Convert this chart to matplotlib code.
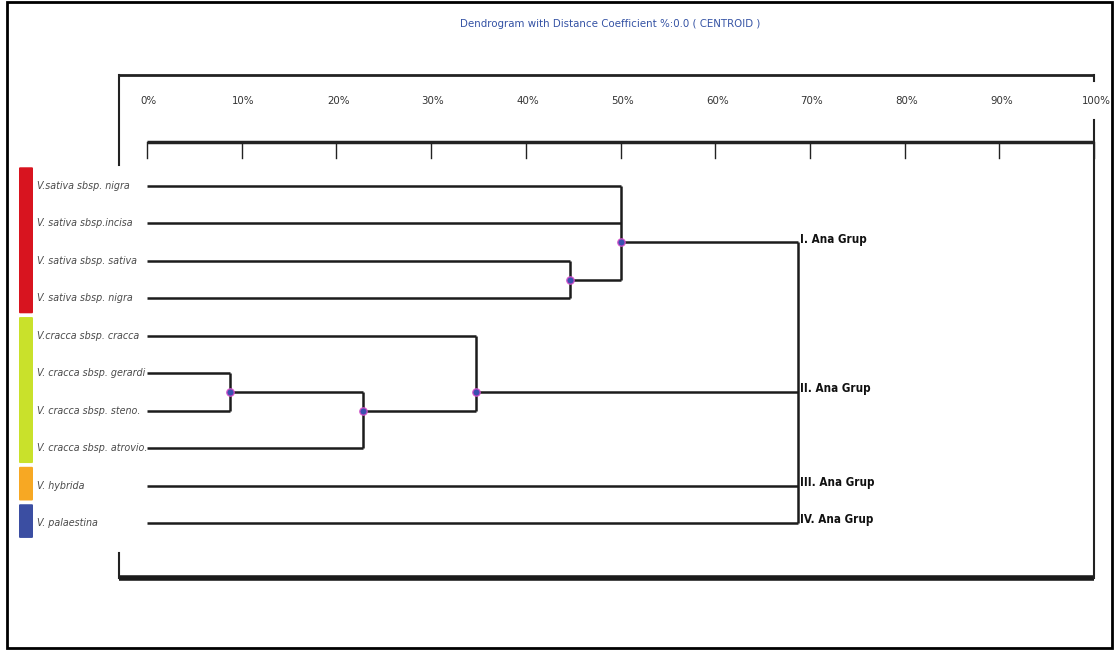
import matplotlib
matplotlib.use("Agg")
import matplotlib.pyplot as plt
from matplotlib import font_manager
from matplotlib.patches import FancyBboxPatch, Rectangle
import numpy as np

# leaves, top to bottom
leaf_names = ["V.sativa sbsp. nigra", "V. sativa sbsp.incisa", "V. sativa sbsp. sativa",
              "V. sativa sbsp. nigra", "V.cracca sbsp. cracca", "V. cracca sbsp. gerardi",
              "V. cracca sbsp. steno.", "V. cracca sbsp. atrovio.", "V. hybrida", "V. palaestina"]
leaf_group = [0, 0, 0, 0, 1, 1, 1, 1, 2, 3]
group_colors = ["#d8141f", "#c9e12b", "#f7a823", "#3b4ea2"]
group_labels = ["I. Ana Grup", "II. Ana Grup", "III. Ana Grup", "IV. Ana Grup"]

# merges: children (leaf index or n+k for k-th merge) and distance in %
merge_children = [[2, 3], [0, 1, 10], [5, 6], [12, 7], [4, 13], [11, 14, 8, 9]]
merge_height = [44.7, 50.0, 8.8, 22.8, 34.7, 68.7]

tick_values = [0, 10, 20, 30, 40, 50, 60, 70, 80, 90, 100]
title = "Dendrogram with Distance Coefficient %:0.0 ( CENTROID )"

# fonts
names = {f.name for f in font_manager.fontManager.ttflist}
if "Liberation Sans Narrow" in names:
    narrow = dict(family="Liberation Sans Narrow")
else:
    narrow = dict(family="DejaVu Sans", stretch="condensed")

W, H = 1115, 650
fig = plt.figure(figsize=(W / 100, H / 100), dpi=100)
ax = fig.add_axes([0, 0, 1, 1])

# pixel -> data helpers (0% at px 147, 100% at px 1094; leaf 0 at px 186, step 37.44)
x0, xs = 147.0, 9.47
y0, ys = 186.0, 37.44
def px(v):
    return (v - x0) / xs
def py(v):
    return (v - y0) / ys

ax.set_xlim(px(0), px(W))
ax.set_ylim(py(H), py(0))
ax.axis("off")

# outer frame
fig.patches.append(Rectangle((7 / W, 2 / H), 1105 / W, 646 / H, transform=fig.transFigure,
                             fill=False, lw=2, ec="black"))

# inner box
ax.plot([px(119), px(1094)], [py(75), py(75)], color="#222", lw=2, solid_capstyle="butt")
ax.plot([px(119), px(1094)], [py(578), py(578)], color="#1a1a1a", lw=4, solid_capstyle="butt")
ax.plot([px(119), px(119)], [py(75), py(165)], color="#222", lw=1.5)
ax.plot([px(119), px(119)], [py(553), py(578)], color="#222", lw=1.5)
ax.plot([px(1094), px(1094)], [py(75), py(81)], color="#222", lw=1.5)
ax.plot([px(1094), px(1094)], [py(120), py(578)], color="#222", lw=1.5)

# ruler
ax.plot([tick_values[0], tick_values[-1]], [py(142), py(142)], color="#222", lw=2.5,
        solid_capstyle="butt")
for t in tick_values:
    ax.plot([t, t], [py(142), py(158)], color="#222", lw=1)
    ax.text(t + 0.2, py(101), f"{t}%", ha="center", va="center", fontsize=8.2, color="#333",
            **narrow)

ax.text(px(610), py(24), title, ha="center", va="center", fontsize=8.2, color="#3452a4", **narrow)

# dendrogram geometry
n = len(leaf_names)
ypos = list(range(n))
hgt = [0.0] * n
members = [[i] for i in range(n)]
for ch, h in zip(merge_children, merge_height):
    m = [leaf for c in ch for leaf in members[c]]
    members.append(m)
    ypos.append(float(np.mean(m)))
    hgt.append(h)

line_kw = dict(color="#1c1c1c", lw=1.8, solid_capstyle="butt", zorder=2)
for k, (ch, h) in enumerate(zip(merge_children, merge_height)):
    ys_ch = [ypos[c] for c in ch]
    ax.plot([h, h], [min(ys_ch), max(ys_ch)], **line_kw)
    for c in ch:
        ax.plot([hgt[c], h], [ypos[c], ypos[c]], **line_kw)
    if k < len(merge_children) - 1:
        ax.scatter([h], [ypos[n + k]], s=28, color="#3a4fb0", edgecolor="#d050c8",
                   linewidth=0.9, zorder=4)

# cluster labels at the root
root_h = merge_height[-1]
for c, lab in zip(merge_children[-1], group_labels):
    ax.text(root_h + 0.3, ypos[c] - 0.08, lab, ha="left", va="center", fontsize=8.4,
            fontweight="bold", color="#111", **narrow)

# leaf labels
for i, name in enumerate(leaf_names):
    ax.text(px(37), i, name, ha="left", va="center", fontsize=7.7, style="italic",
            color="#4a4a4a", **narrow)

# group colour bars
for g, col in enumerate(group_colors):
    idx = [i for i, gg in enumerate(leaf_group) if gg == g]
    top = min(idx) - 0.5
    bot = max(idx) + 0.4
    bar = FancyBboxPatch((px(19), top), px(33) - px(19), bot - top,
                         boxstyle="round,pad=0,rounding_size=0.12", fc=col, ec="none",
                         mutation_aspect=1 / ys * xs, zorder=3)
    ax.add_patch(bar)

fig.savefig("out.png", dpi=100)
